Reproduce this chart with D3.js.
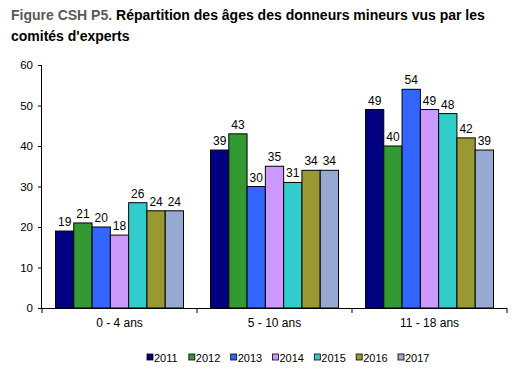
<!DOCTYPE html>
<html><head><meta charset="utf-8">
<script src="https://cdn.jsdelivr.net/npm/d3@7"></script>
<style>body{margin:0;background:#fff}svg{display:block}</style>
</head><body>
<script>
const categories = ["0 - 4 ans", "5 - 10 ans", "11 - 18 ans"];
const years = ["2011","2012","2013","2014","2015","2016","2017"];
const v2011 = [19, 39, 49];
const v2012 = [21, 43, 40];
const v2013 = [20, 30, 54];
const v2014 = [18, 35, 49];
const v2015 = [26, 31, 48];
const v2016 = [24, 34, 42];
const v2017 = [24, 34, 39];
const yTicks = [0,10,20,30,40,50,60];
const colors = ["#000080","#339933","#3366FF","#CC99FF","#33CCCC","#999933","#97A9D1"];
const series = [v2011,v2012,v2013,v2014,v2015,v2016,v2017];

const W=522,H=380;
const svg=d3.select("body").append("svg").attr("width",W).attr("height",H);
const font="Arial, 'Liberation Sans', sans-serif";

const t=svg.append("text").attr("x",11).attr("y",20).attr("font-family",font).attr("font-size",14).attr("font-weight","bold");
t.append("tspan").attr("fill","#595959").text("Figure CSH P5. ");
t.append("tspan").attr("fill","#000").text("Répartition des âges des donneurs mineurs vus par les");
svg.append("text").attr("x",11).attr("y",41).attr("font-family",font).attr("font-size",14).attr("font-weight","bold").attr("fill","#000").text("comités d'experts");

const x0=42,x1=507,y0=308,y1=65;
const x=d3.scaleBand().domain(categories).range([x0,x1]).paddingInner(0).paddingOuter(0);
const inner=d3.scaleBand().domain(years).range([13.5,x.bandwidth()-13.5]).padding(0);
const y=d3.scaleLinear().domain([0,60]).range([y0,y1]);

const g=svg.append("g");
categories.forEach((c,ci)=>{
  years.forEach((yr,si)=>{
    const v=series[si][ci];
    const bx=x(c)+inner(yr);
    g.append("rect").attr("x",bx).attr("y",y(v)).attr("width",inner.bandwidth()).attr("height",y0-y(v))
      .attr("fill",colors[si]).attr("stroke","#000").attr("stroke-width",1);
    g.append("text").attr("x",bx+inner.bandwidth()/2).attr("y",y(v)-5).attr("text-anchor","middle")
      .attr("font-family",font).attr("font-size",12).attr("fill","#000").text(v);
  });
});

const ya=svg.append("g").attr("transform",`translate(${x0},0)`)
  .call(d3.axisLeft(y).tickValues(yTicks).tickSize(4).tickPadding(5));
ya.select(".domain").attr("stroke","#000").attr("d",`M-0.5,${y1}V${y0}`);
ya.selectAll("text").attr("font-family",font).attr("font-size",11.5).attr("fill","#000");

const xa=svg.append("g").attr("transform",`translate(0,${y0})`);
xa.append("line").attr("x1",x0).attr("x2",x1).attr("y1",0.5).attr("y2",0.5).attr("stroke","#000");
[x0,...categories.map(c=>x(c)+x.bandwidth())].forEach(px=>{
  xa.append("line").attr("x1",px).attr("x2",px).attr("y1",0).attr("y2",5).attr("stroke","#000");
});
categories.forEach(c=>{
  xa.append("text").attr("x",x(c)+x.bandwidth()/2).attr("y",19).attr("text-anchor","middle")
    .attr("font-family",font).attr("font-size",12).attr("fill","#000").text(c);
});

const lx=d3.scalePoint().domain(years).range([147,398]);
years.forEach((yr,i)=>{
  svg.append("rect").attr("x",lx(yr)).attr("y",354).attr("width",6).attr("height",6)
    .attr("fill",colors[i]).attr("stroke","#000").attr("stroke-width",0.8);
  svg.append("text").attr("x",lx(yr)+7).attr("y",361.5).attr("font-family",font).attr("font-size",11).attr("fill","#000").text(yr);
});
</script>
</body></html>
